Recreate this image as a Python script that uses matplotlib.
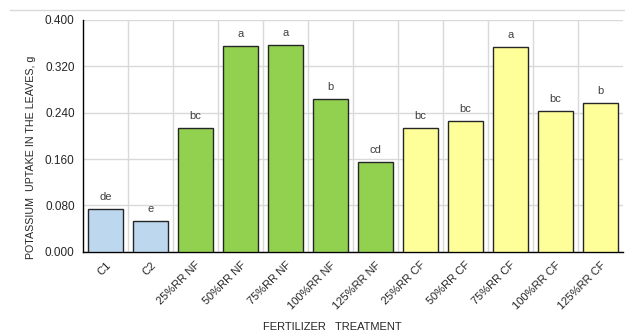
import matplotlib
matplotlib.use("Agg")
import matplotlib.pyplot as plt
from matplotlib.lines import Line2D

plt.rcParams['font.family'] = ['Liberation Sans', 'DejaVu Sans']

# Treatments and potassium uptake (g)
treatments = ["C1", "C2", "25%RR NF", "50%RR NF", "75%RR NF", "100%RR NF",
              "125%RR NF", "25%RR CF", "50%RR CF", "75%RR CF", "100%RR CF", "125%RR CF"]
uptake = [0.074, 0.053, 0.214, 0.355, 0.357, 0.264,
          0.155, 0.214, 0.226, 0.353, 0.243, 0.256]
letters = ["de", "e", "bc", "a", "a", "b", "cd", "bc", "bc", "a", "bc", "b"]
groups = ["control"] * 2 + ["NF"] * 5 + ["CF"] * 5
yticks = [0.000, 0.080, 0.160, 0.240, 0.320, 0.400]

group_colors = {"control": "#BDD7EE", "NF": "#92D050", "CF": "#FFFF99"}

fig = plt.figure(figsize=(6.25, 3.35), dpi=100)
ax = fig.add_axes([83 / 625, 1 - 251.7 / 335, 540 / 625, 231.7 / 335])

x = list(range(len(treatments)))
ax.bar(x, uptake, width=0.78, color=[group_colors[g] for g in groups],
       edgecolor="#262626", linewidth=1.0, zorder=3)

for xi, v, lab in zip(x, uptake, letters):
    ax.text(xi, v + 0.012, lab, ha="center", va="bottom", fontsize=8,
            color="#404040", zorder=4)

ax.set_xlim(-0.5, len(treatments) - 0.5)
ax.set_ylim(0, 0.4)
ax.set_yticks(yticks)
ax.set_yticklabels([f"{t:.3f}" for t in yticks], fontsize=8.5, color="#262626")

# vertical grid at category boundaries
ax.set_xticks([i + 0.5 for i in x[:-1]], minor=True)
ax.grid(axis="y", which="major", color="#d9d9d9", linewidth=1.0, zorder=0)
ax.grid(axis="x", which="minor", color="#d9d9d9", linewidth=1.0, zorder=0)
ax.tick_params(axis="x", which="minor", length=0)

ax.set_xticks(x)
ax.set_xticklabels(treatments, rotation=45, ha="right", rotation_mode="anchor",
                   fontsize=8, color="#262626")
ax.tick_params(axis="both", which="major", length=0, pad=6)

for side in ("top", "right"):
    ax.spines[side].set_visible(False)
for side in ("left", "bottom"):
    ax.spines[side].set_color("#000000")
    ax.spines[side].set_linewidth(1.0)

fig.text(31 / 625, 1 - 157 / 335, "POTASSIUM  UPTAKE IN THE LEAVES, g", rotation=90,
         ha="center", va="center", fontsize=7.7, color="#262626")
fig.text(332 / 625, 1 - 327 / 335, "FERTILIZER   TREATMENT", ha="center", va="center",
         fontsize=8, color="#262626")

# faint frame line along the top
fig.add_artist(Line2D([10 / 625, 1], [1 - 10 / 335, 1 - 10 / 335],
                      transform=fig.transFigure, color="#d9d9d9", linewidth=1.0))

fig.savefig("out.png", dpi=100)
